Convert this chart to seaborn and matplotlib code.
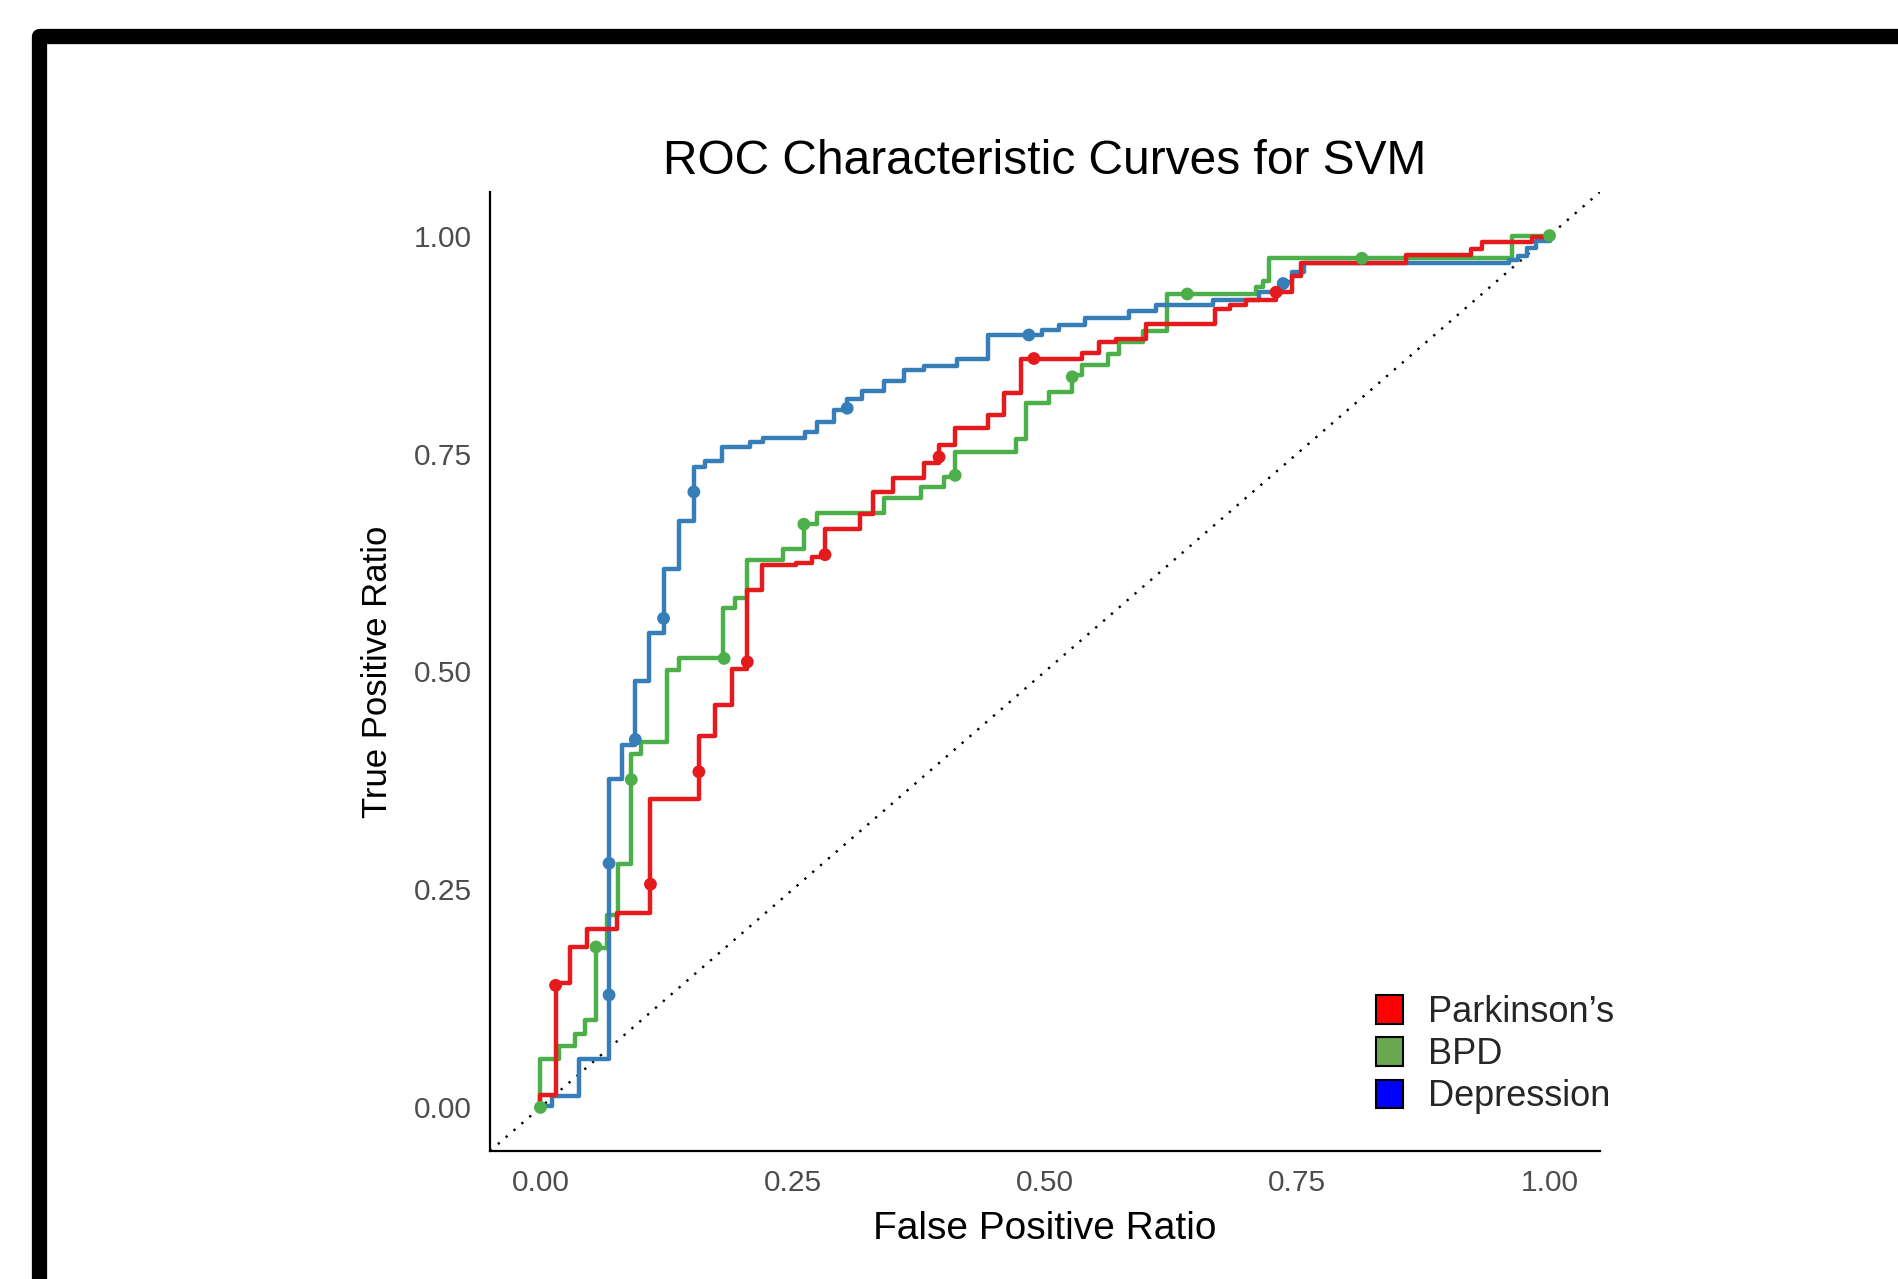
import pandas as pd
import matplotlib
matplotlib.use("Agg")
import matplotlib.pyplot as plt
import seaborn as sns
from matplotlib.patches import Patch, Rectangle

# --- ROC 階梯曲線頂點 (FPR, TPR) ---
park_fpr = [0, 0, 0.015, 0.029, 0.046, 0.076, 0.109, 0.157, 0.173, 0.190, 0.205, 0.220, 0.253, 0.269,
            0.282, 0.317, 0.330, 0.349, 0.380, 0.395, 0.411, 0.444, 0.459, 0.476, 0.537, 0.554, 0.570,
            0.600, 0.668, 0.683, 0.699, 0.729, 0.745, 0.754, 0.858, 0.922, 0.933, 0.983, 0.996, 1.0]
park_tpr = [0, 0.014, 0.143, 0.184, 0.205, 0.223, 0.354, 0.426, 0.462, 0.503, 0.593, 0.622, 0.625, 0.631,
            0.663, 0.681, 0.706, 0.722, 0.739, 0.760, 0.779, 0.794, 0.819, 0.859, 0.865, 0.878, 0.881,
            0.899, 0.916, 0.920, 0.926, 0.935, 0.954, 0.969, 0.978, 0.985, 0.993, 0.998, 1.0, 1.0]

bpd_fpr = [0, 0, 0.018, 0.034, 0.044, 0.055, 0.066, 0.077, 0.090, 0.100, 0.125, 0.137, 0.181, 0.193,
           0.205, 0.240, 0.261, 0.274, 0.340, 0.377, 0.400, 0.411, 0.471, 0.481, 0.504, 0.527, 0.537,
           0.562, 0.573, 0.597, 0.621, 0.709, 0.716, 0.722, 0.963, 1.0]
bpd_tpr = [0, 0.056, 0.071, 0.084, 0.100, 0.183, 0.221, 0.279, 0.405, 0.419, 0.502, 0.515, 0.573, 0.584,
           0.628, 0.641, 0.669, 0.682, 0.699, 0.712, 0.723, 0.752, 0.767, 0.808, 0.821, 0.840, 0.851,
           0.864, 0.878, 0.890, 0.933, 0.941, 0.948, 0.974, 1.0, 1.0]

dep_fpr = [0, 0, 0.011, 0.038, 0.068, 0.081, 0.094, 0.108, 0.122, 0.137, 0.152, 0.163, 0.180, 0.208,
           0.221, 0.262, 0.274, 0.291, 0.304, 0.319, 0.340, 0.360, 0.380, 0.413, 0.444, 0.497, 0.514,
           0.540, 0.583, 0.610, 0.666, 0.712, 0.736, 0.745, 0.757, 0.960, 0.969, 0.978, 0.987, 1.0]
dep_tpr = [0, 0.002, 0.013, 0.056, 0.377, 0.416, 0.489, 0.544, 0.617, 0.673, 0.734, 0.741, 0.757, 0.763,
           0.768, 0.775, 0.786, 0.800, 0.813, 0.822, 0.833, 0.846, 0.850, 0.859, 0.886, 0.892, 0.897,
           0.905, 0.914, 0.920, 0.926, 0.935, 0.947, 0.958, 0.968, 0.972, 0.977, 0.986, 0.994, 1.0]

# --- 截斷點標記 ---
park_pt_fpr = [0.015, 0.109, 0.157, 0.205, 0.282, 0.395, 0.489, 0.729]
park_pt_tpr = [0.140, 0.256, 0.385, 0.511, 0.634, 0.746, 0.859, 0.935]
bpd_pt_fpr = [0, 0.055, 0.090, 0.182, 0.261, 0.411, 0.527, 0.641, 0.814, 1.0]
bpd_pt_tpr = [0, 0.184, 0.376, 0.515, 0.669, 0.725, 0.838, 0.933, 0.974, 1.0]
dep_pt_fpr = [0.068, 0.068, 0.094, 0.122, 0.152, 0.304, 0.484, 0.736]
dep_pt_tpr = [0.129, 0.280, 0.422, 0.561, 0.706, 0.802, 0.886, 0.945]

models = ["BPD", "Depression", "Parkinson's"]
line_colors = {"BPD": "#4DAF4A", "Depression": "#377EB8", "Parkinson's": "#E41A1C"}
legend_labels = ["Parkinson\u2019s", "BPD", "Depression"]
legend_colors = ["#FF0000", "#6AA84F", "#0000FF"]


def long_form(fpr_dict, tpr_dict):
    frames = []
    for m in models:
        frames.append(pd.DataFrame({"fpr": fpr_dict[m], "tpr": tpr_dict[m], "model": m}))
    return pd.concat(frames, ignore_index=True)


df_curve = long_form({"BPD": bpd_fpr, "Depression": dep_fpr, "Parkinson's": park_fpr},
                     {"BPD": bpd_tpr, "Depression": dep_tpr, "Parkinson's": park_tpr})
df_pts = long_form({"BPD": bpd_pt_fpr, "Depression": dep_pt_fpr, "Parkinson's": park_pt_fpr},
                   {"BPD": bpd_pt_tpr, "Depression": dep_pt_tpr, "Parkinson's": park_pt_tpr})

sns.set_style("white")
plt.rcParams['font.family'] = ['Liberation Sans', 'DejaVu Sans']

fig = plt.figure(figsize=(18.99, 12.79), dpi=100)
ax = fig.add_axes([490 / 1899, 1 - 1151 / 1279, 1110 / 1899, 959 / 1279])

ax.axline((0, 0), slope=1, color='black', lw=1.7, linestyle=(0, (1, 3.4)), zorder=1)

sns.lineplot(data=df_curve, x='fpr', y='tpr', hue='model', hue_order=models, palette=line_colors,
             estimator=None, sort=False, drawstyle='steps-post', linewidth=3.2, legend=False, ax=ax, zorder=2)
sns.scatterplot(data=df_pts, x='fpr', y='tpr', hue='model', hue_order=models, palette=line_colors,
                s=85, linewidth=0, legend=False, ax=ax, zorder=3)

ax.set_xlim(-0.05, 1.05)
ax.set_ylim(-0.05, 1.05)
ax.set_xticks([0, 0.25, 0.5, 0.75, 1.0])
ax.set_yticks([0, 0.25, 0.5, 0.75, 1.0])
ax.set_xticklabels(['0.00', '0.25', '0.50', '0.75', '1.00'])
ax.set_yticklabels(['0.00', '0.25', '0.50', '0.75', '1.00'])
ax.tick_params(axis='both', colors='#333333', labelcolor='#4D4D4D', labelsize=21.5, width=1.5)
ax.tick_params(axis='y', length=7, pad=6)
ax.tick_params(axis='x', length=5, pad=8)
for side in ['top', 'right']:
    ax.spines[side].set_visible(False)
for side in ['left', 'bottom']:
    ax.spines[side].set_color('black')
    ax.spines[side].set_linewidth(1.6)

ax.set_title('ROC Characteristic Curves for SVM', fontsize=34.5, color='black', pad=13)
ax.set_xlabel('False Positive Ratio', fontsize=28, color='black', labelpad=10)
ax.set_ylabel('True Positive Ratio', fontsize=25, color='black', labelpad=14)

handles = [Patch(facecolor=c, edgecolor='black', linewidth=1.5) for c in legend_colors]
ax.legend(handles, legend_labels, loc='upper left', bbox_to_anchor=(1376 / 1899, 1 - 995 / 1279),
          bbox_transform=fig.transFigure, frameon=False, fontsize=26, handlelength=0.75,
          handleheight=0.85, handletextpad=0.7, labelspacing=0.2, borderpad=0, borderaxespad=0)

# 外框 (原圖左上角的黑色邊框)
fig.add_artist(Rectangle((39 / 1899, -0.2), 1.5, 1.2 - 36 / 1279, transform=fig.transFigure,
                         fill=False, edgecolor='black', linewidth=11, joinstyle='round'))

plt.savefig('out.png', dpi=100, facecolor='white')
plt.close()
